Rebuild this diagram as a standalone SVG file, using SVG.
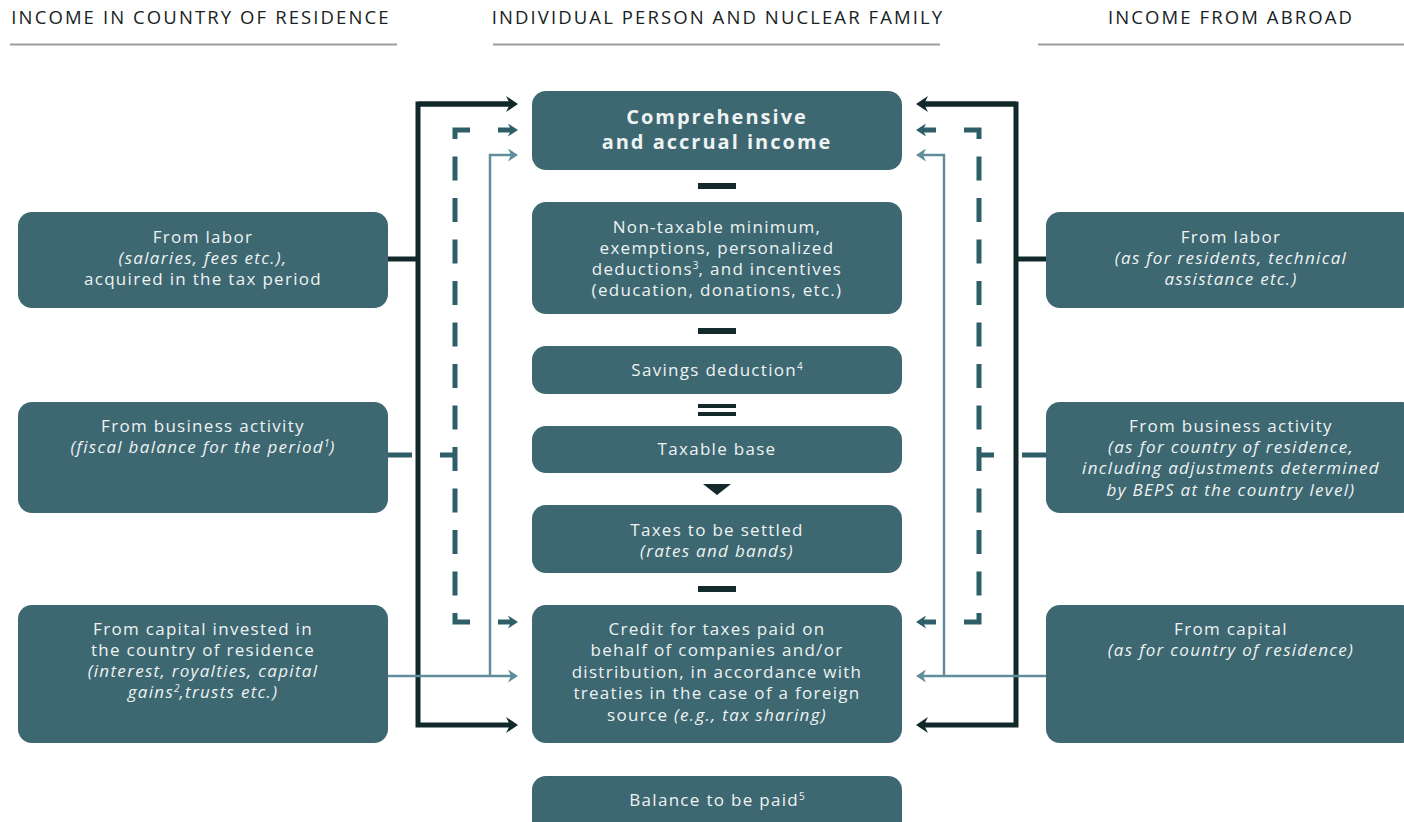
<svg xmlns="http://www.w3.org/2000/svg" width="1404" height="822" viewBox="0 0 1404 822">
<style>
.box{fill:#3d6771}
.t{font-family:"Open Sans","Liberation Sans",sans-serif;font-size:17px;fill:#eef3f3;text-anchor:middle;letter-spacing:1.3px}
.i{font-style:italic}
.b{font-weight:bold;font-size:20px;letter-spacing:2px}
.h{font-family:"Open Sans","Liberation Sans",sans-serif;font-size:18.5px;font-weight:500;fill:#172223;text-anchor:middle;letter-spacing:2.1px}
.sup{font-size:10px;letter-spacing:0}
.rule{stroke:#9a9e9e;stroke-width:2}
.op{fill:#14292b}
.dark{fill:none;stroke:#12292b;stroke-width:5}
.dash{fill:none;stroke:#2e5f69;stroke-width:5}
.light{fill:none;stroke:#5f8e9a;stroke-width:2.5}
</style>
<defs>
<marker id="ad" markerUnits="userSpaceOnUse" viewBox="0 0 12 16" markerWidth="12" markerHeight="16" refX="4" refY="8" orient="auto"><path d="M0,0 L12,8 L0,16 L4,8 z" fill="#12292b"/></marker>
<marker id="am" markerUnits="userSpaceOnUse" viewBox="0 0 10 13" markerWidth="10" markerHeight="13" refX="3" refY="6.5" orient="auto"><path d="M0,0 L10,6.5 L0,13 L3,6.5 z" fill="#2e5f69"/></marker>
<marker id="al" markerUnits="userSpaceOnUse" viewBox="0 0 10 13" markerWidth="10" markerHeight="13" refX="3" refY="6.5" orient="auto"><path d="M0,0 L10,6.5 L0,13 L3,6.5 z" fill="#5f8e9a"/></marker>
</defs>

<g id="headers">
<text class="h" x="201" y="24">INCOME IN COUNTRY OF RESIDENCE</text>
<text class="h" x="718" y="24">INDIVIDUAL PERSON AND NUCLEAR FAMILY</text>
<text class="h" x="1231" y="24">INCOME FROM ABROAD</text>
<line class="rule" x1="10" y1="44.5" x2="397" y2="44.5"/>
<line class="rule" x1="493" y1="44.5" x2="940" y2="44.5"/>
<line class="rule" x1="1038" y1="44.5" x2="1404" y2="44.5"/>
</g>

<g id="connectors">
<path class="dark" d="M388 259 H418"/>
<path class="dark" d="M510 104 H418 V725 H510" marker-end="url(#ad)"/>
<path class="dark" d="M418 104 H510" marker-end="url(#ad)"/>
<path class="dash" d="M470 130 H455 V622 H470" stroke-dasharray="24 17.5"/>
<path class="dash" d="M388 455 H455" stroke-dasharray="24 28"/>
<path class="dash" d="M498 130 H511" marker-end="url(#am)"/>
<path class="dash" d="M498 622 H511" marker-end="url(#am)"/>
<path class="light" d="M388 676 H511" marker-end="url(#al)"/>
<path class="light" d="M490 676 V155 H511" marker-end="url(#al)"/>

<path class="dark" d="M1046 259 H1016"/>
<path class="dark" d="M924 104 H1016 V725 H924" marker-end="url(#ad)"/>
<path class="dark" d="M1016 104 H924" marker-end="url(#ad)"/>
<path class="dash" d="M964 130 H979 V622 H964" stroke-dasharray="24 17.5"/>
<path class="dash" d="M1046 455 H979" stroke-dasharray="24 28"/>
<path class="dash" d="M936 130 H923" marker-end="url(#am)"/>
<path class="dash" d="M936 622 H923" marker-end="url(#am)"/>
<path class="light" d="M1046 676 H923" marker-end="url(#al)"/>
<path class="light" d="M944 676 V155 H923" marker-end="url(#al)"/>
</g>

<g id="operators">
<rect class="op" x="698" y="183" width="38" height="6"/>
<rect class="op" x="698" y="328" width="38" height="6"/>
<rect class="op" x="698" y="404" width="38" height="4"/>
<rect class="op" x="698" y="412" width="38" height="4"/>
<polygon class="op" points="703,484 731,484 717,495"/>
<rect class="op" x="698" y="586" width="38" height="6"/>
</g>

<g id="left-labor">
<rect class="box" x="18" y="212" width="370" height="96" rx="14"/>
<text class="t" x="203" y="243">From labor</text>
<text class="t i" x="203" y="264">(salaries, fees etc.),</text>
<text class="t" x="203" y="285">acquired in the tax period</text>
</g>
<g id="left-business">
<rect class="box" x="18" y="402" width="370" height="111" rx="14"/>
<text class="t" x="203" y="432">From business activity</text>
<text class="t i" x="203" y="453">(fiscal balance for the period<tspan class="sup" dy="-6">1</tspan><tspan dy="6">)</tspan></text>
</g>
<g id="left-capital">
<rect class="box" x="18" y="605" width="370" height="138" rx="14"/>
<text class="t" x="203" y="635">From capital invested in</text>
<text class="t" x="203" y="656">the country of residence</text>
<text class="t i" x="203" y="677">(interest, royalties, capital</text>
<text class="t i" x="203" y="698">gains<tspan class="sup" dy="-6">2</tspan><tspan dy="6">,trusts etc.)</tspan></text>
</g>

<g id="comprehensive-income">
<rect class="box" x="532" y="91" width="370" height="79" rx="14"/>
<text class="t b" x="717" y="124">Comprehensive</text>
<text class="t b" x="717" y="149">and accrual income</text>
</g>
<g id="deductions">
<rect class="box" x="532" y="202" width="370" height="112" rx="14"/>
<text class="t" x="717" y="233">Non-taxable minimum,</text>
<text class="t" x="717" y="254">exemptions, personalized</text>
<text class="t" x="717" y="275">deductions<tspan class="sup" dy="-6">3</tspan><tspan dy="6">, and incentives</tspan></text>
<text class="t" x="717" y="296">(education, donations, etc.)</text>
</g>
<g id="savings">
<rect class="box" x="532" y="346" width="370" height="48" rx="14"/>
<text class="t" x="717" y="376">Savings deduction<tspan class="sup" dy="-6">4</tspan></text>
</g>
<g id="taxable-base">
<rect class="box" x="532" y="426" width="370" height="47" rx="14"/>
<text class="t" x="717" y="455">Taxable base</text>
</g>
<g id="taxes-settled">
<rect class="box" x="532" y="505" width="370" height="68" rx="14"/>
<text class="t" x="717" y="536">Taxes to be settled</text>
<text class="t i" x="717" y="557">(rates and bands)</text>
</g>
<g id="credit">
<rect class="box" x="532" y="605" width="370" height="138" rx="14"/>
<text class="t" x="717" y="635">Credit for taxes paid on</text>
<text class="t" x="717" y="656">behalf of companies and/or</text>
<text class="t" x="717" y="678">distribution, in accordance with</text>
<text class="t" x="717" y="699">treaties in the case of a foreign</text>
<text class="t" x="717" y="721">source <tspan class="i">(e.g., tax sharing)</tspan></text>
</g>
<g id="balance">
<rect class="box" x="532" y="776" width="370" height="60" rx="14"/>
<text class="t" x="717" y="806">Balance to be paid<tspan class="sup" dy="-6">5</tspan></text>
</g>

<g id="right-labor">
<rect class="box" x="1046" y="212" width="370" height="96" rx="14"/>
<text class="t" x="1231" y="243">From labor</text>
<text class="t i" x="1231" y="264">(as for residents, technical</text>
<text class="t i" x="1231" y="285">assistance etc.)</text>
</g>
<g id="right-business">
<rect class="box" x="1046" y="402" width="370" height="111" rx="14"/>
<text class="t" x="1231" y="432">From business activity</text>
<text class="t i" x="1231" y="453">(as for country of residence,</text>
<text class="t i" x="1231" y="474">including adjustments determined</text>
<text class="t i" x="1231" y="496">by BEPS at the country level)</text>
</g>
<g id="right-capital">
<rect class="box" x="1046" y="605" width="370" height="138" rx="14"/>
<text class="t" x="1231" y="635">From capital</text>
<text class="t i" x="1231" y="656">(as for country of residence)</text>
</g>
</svg>
